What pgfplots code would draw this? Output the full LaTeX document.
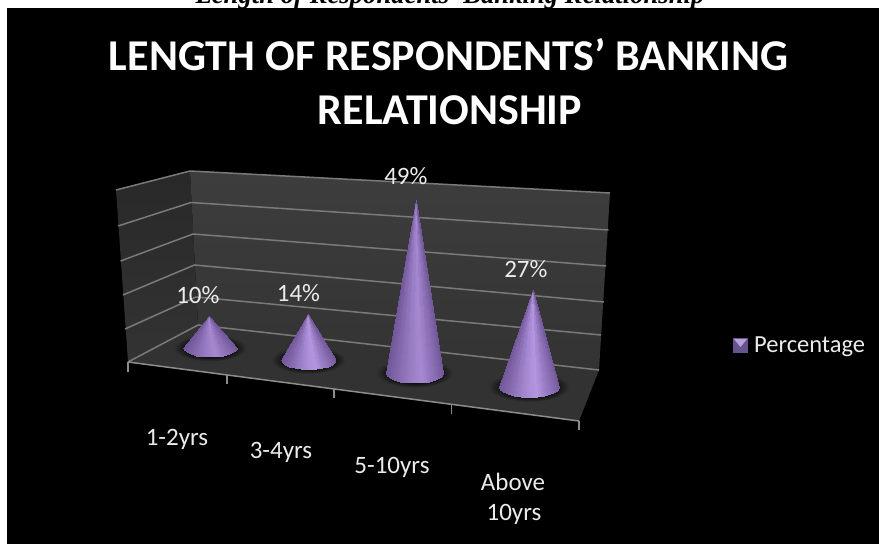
\documentclass[border=0pt]{standalone}
\usepackage{pgfplots}
\pgfplotsset{compat=1.18}
\usepackage{fontspec}
\setmainfont{Carlito}
\newfontfamily\captionfont{Liberation Serif}

\definecolor{gridgray}{RGB}{122,122,122}
\definecolor{floorgray}{RGB}{50,50,50}
\pgfdeclareradialshading{baseshadow}{\pgfpoint{0bp}{0bp}}{%
  color(0bp)=(black); color(14bp)=(black!92!floorgray); color(25bp)=(floorgray); color(50bp)=(floorgray)}

% One cone in its own percent-scaled axis: centre x, base y, half width,
% points per percent, value, apex offset, label offsets, highlight damping.
\newcommand{\conemark}[9]{%
\pgfmathsetmacro{\coneY}{544-#2}%
\begin{axis}[
  at={(#1pt,\coneY pt)}, anchor=origin,
  x=#3pt, y=#4pt, xmin=-1.5, xmax=1.5, ymin=-6, ymax=60,
  hide axis, clip=false,
  colormap={conecolors}{rgb255=(108,82,148) rgb255=(180,150,224)},
  point meta min=0, point meta max=#9]
  \addplot[draw=none, shading=baseshadow] coordinates {
    (-1.35,0) (-1.25,1.6) (-0.95,2.9) (-0.5,3.9) (0,4.2) (0.5,3.9) (0.95,2.9) (1.25,1.6)
    (1.35,0) (1.25,-1.6) (0.95,-2.9) (0.5,-3.9) (0,-4.2) (-0.5,-3.9) (-0.95,-2.9) (-1.25,-1.6)};
  \addplot[surf, shader=interp, mesh/rows=2, point meta=explicit] coordinates {
    (#6,#5) [0.05] (#6,#5) [0.12] (#6,#5) [0.20] (#6,#5) [0.32] (#6,#5) [0.50] (#6,#5) [0.70] (#6,#5) [0.88]
    (#6,#5) [1.00] (#6,#5) [0.70] (#6,#5) [0.50] (#6,#5) [0.32] (#6,#5) [0.18] (#6,#5) [0.08]
    (-1,0) [0.05] (-0.966,-0.725) [0.12] (-0.866,-1.4) [0.20] (-0.707,-1.98) [0.32] (-0.5,-2.42) [0.50] (-0.259,-2.70) [0.70] (0,-2.8) [0.88]
    (0.259,-2.70) [1.00] (0.5,-2.42) [0.70] (0.707,-1.98) [0.50] (0.866,-1.4) [0.32] (0.966,-0.725) [0.18] (1,0) [0.08]
  };
  \node[text=white!92!black, font=\fontsize{25}{28}\selectfont, inner sep=0pt]
    at (axis cs:#6,#5) [xshift=#7pt, yshift=#8pt] {#5\%};
\end{axis}}

\begin{document}
\begin{tikzpicture}[x=1pt,y=1pt]
% Page ground, wall panels, floor and all chart text, on a 879 by 544 grid
\begin{axis}[
  at={(0,0)}, anchor=south west, scale only axis,
  width=879pt, height=544pt,
  xmin=0, xmax=879, ymin=0, ymax=544, y dir=reverse,
  hide axis, clip mode=global]
  \addplot[draw=none, fill=white] coordinates {(0,0) (879,0) (879,544) (0,544)};
  \node[font=\captionfont\bfseries\itshape\fontsize{26.7}{30}\selectfont, text=black, anchor=base]
    at (axis cs:450,3.5) {Length of Respondents' Banking Relationship};
  \addplot[draw=none, fill=black] coordinates {(7,8) (879,8) (879,544) (7,544)};

  \node[font=\bfseries\fontsize{44}{50}\selectfont, text=white, anchor=base]
    at (axis cs:448.5,70) {LENGTH OF RESPONDENTS’ BANKING};
  \node[font=\bfseries\fontsize{44}{50}\selectfont, text=white, anchor=base]
    at (axis cs:450,124) {RELATIONSHIP};

  % side wall, back wall, floor
  \addplot[draw=none, top color=black!84, bottom color=black!80]
    coordinates {(116,190) (190,171) (198,325) (128,362)};
  \addplot[draw=none, top color=black!76, bottom color=black!80]
    coordinates {(190,171) (610,193) (599,370) (198,325)};
  \addplot[draw=none, fill=floorgray]
    coordinates {(128,362) (198,325) (599,370) (579,421)};

  % grid lines running along the side wall and the back wall
  \addplot[gridgray, line width=1.5pt] coordinates {(116,190) (190,171) (610,193)};
  \addplot[gridgray, line width=1.5pt] coordinates {(118,226) (191,202.5) (608.5,230)};
  \addplot[gridgray, line width=1.5pt] coordinates {(120.5,261) (193,234) (606,266)};
  \addplot[gridgray, line width=1.5pt] coordinates {(123,295) (194.5,265) (604,302)};
  \addplot[gridgray, line width=1.5pt] coordinates {(125,329) (196,297) (601,335)};
  \addplot[gridgray, line width=1.5pt] coordinates {(128,362) (198,325) (599,370)};

  % front edge of the floor with its tick marks
  \addplot[black!45, line width=1.5pt] coordinates {(128,362) (579,421)};
  \addplot[black!45, line width=1.5pt] coordinates {(128,362) (128,372)};
  \addplot[black!45, line width=1.5pt] coordinates {(227,375) (227,384)};
  \addplot[black!45, line width=1.5pt] coordinates {(334,389) (334,398)};
  \addplot[black!45, line width=1.5pt] coordinates {(451.5,405) (451.5,414)};
  \addplot[black!45, line width=1.5pt] coordinates {(579,421) (579,430)};

  % category names
  \node[font=\fontsize{25}{28}\selectfont, text=white!92!black] at (axis cs:177,439) {1-2yrs};
  \node[font=\fontsize{25}{28}\selectfont, text=white!92!black] at (axis cs:281,452) {3-4yrs};
  \node[font=\fontsize{25}{28}\selectfont, text=white!92!black] at (axis cs:392,467) {5-10yrs};
  \node[font=\fontsize{25}{28}\selectfont, text=white!92!black] at (axis cs:513,482) {Above};
  \node[font=\fontsize{25}{28}\selectfont, text=white!92!black] at (axis cs:514,514) {10yrs};

  % legend key and entry
  \addplot[draw=none, fill={rgb,255:red,104;green,84;blue,140}]
    coordinates {(733,338) (748,338) (748,353) (733,353)};
  \addplot[draw=none, fill={rgb,255:red,184;green,160;blue,224}]
    coordinates {(734,339) (747,339) (740.5,347)};
  \node[font=\fontsize{24.5}{28}\selectfont, text=white!92!black, anchor=west, inner sep=0pt]
    at (axis cs:754,346.5) {Percentage};
\end{axis}

% Percentage of respondents per category
\conemark{210}{348}{27}{3.2}{10}{-0.04}{-11}{21}{1.25}
\conemark{308.5}{360}{27.5}{3.29}{14}{0}{-10}{21}{1.0}
\conemark{414.5}{373}{28.5}{3.53}{49}{0.05}{-10}{24}{1.25}
\conemark{529}{387}{30}{3.59}{27}{0.13}{-7}{21}{1.0}
\end{tikzpicture}
\end{document}
